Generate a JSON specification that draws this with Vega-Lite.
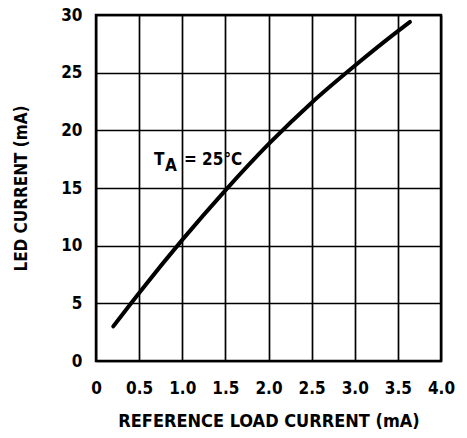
{
  "$schema": "https://vega.github.io/schema/vega-lite/v6.json",
  "width": 345,
  "height": 346,
  "autosize": "none",
  "padding": {"left": 96, "top": 15, "right": 26, "bottom": 77},
  "background": "white",
  "config": {
    "font": "DejaVu Sans Condensed",
    "view": {"stroke": "black", "strokeWidth": 2.5},
    "axis": {
      "domain": false,
      "ticks": false,
      "grid": true,
      "gridColor": "black",
      "gridWidth": 1.7,
      "gridOpacity": 1,
      "labelFont": "DejaVu Sans Condensed",
      "labelFontWeight": "bold",
      "labelFontSize": 17,
      "labelColor": "black",
      "titleFont": "DejaVu Sans Condensed",
      "titleFontWeight": "bold",
      "titleColor": "black"
    }
  },
  "layer": [
    {
      "data": {"values": [
        {"ref": 0.2, "led": 3.0},
        {"ref": 0.5, "led": 5.9},
        {"ref": 1.0, "led": 10.5},
        {"ref": 1.5, "led": 14.8},
        {"ref": 2.0, "led": 18.8},
        {"ref": 2.5, "led": 22.4},
        {"ref": 3.0, "led": 25.6},
        {"ref": 3.5, "led": 28.6},
        {"ref": 3.64, "led": 29.4}
      ]},
      "mark": {"type": "line", "color": "black", "strokeWidth": 4, "strokeCap": "round", "interpolate": "monotone"},
      "encoding": {
        "x": {"field": "ref", "type": "quantitative",
          "scale": {"domain": [0, 4], "nice": false},
          "axis": {"values": [0, 0.5, 1, 1.5, 2, 2.5, 3, 3.5, 4], "labelExpr": "datum.value == 0 ? '0' : format(datum.value, '.1f')", "labelPadding": 19, "titlePadding": 16, "titleFontSize": 18, "labelFlush": false},
          "title": "REFERENCE LOAD CURRENT (mA)"},
        "y": {"field": "led", "type": "quantitative",
          "scale": {"domain": [0, 30], "nice": false},
          "axis": {"values": [0, 5, 10, 15, 20, 25, 30], "labelPadding": 14, "titlePadding": 30, "titleFontSize": 17, "labelFlush": false},
          "title": "LED CURRENT (mA)"}
      }
    },
    {
      "data": {"values": [
        {"ref": 0.672, "led": 17.0, "label": "T"},
        {"ref": 1.02, "led": 17.0, "label": "= 25°C"}
      ]},
      "mark": {"type": "text", "align": "left", "baseline": "alphabetic", "fontWeight": "bold", "fontSize": 17, "color": "black", "font": "DejaVu Sans Condensed"},
      "encoding": {
        "x": {"field": "ref", "type": "quantitative"},
        "y": {"field": "led", "type": "quantitative"},
        "text": {"field": "label"}
      }
    },
    {
      "data": {"values": [
        {"ref": 0.8, "led": 16.45, "label": "A"}
      ]},
      "mark": {"type": "text", "align": "left", "baseline": "alphabetic", "fontWeight": "bold", "fontSize": 17, "color": "black", "font": "DejaVu Sans Condensed"},
      "encoding": {
        "x": {"field": "ref", "type": "quantitative"},
        "y": {"field": "led", "type": "quantitative"},
        "text": {"field": "label"}
      }
    }
  ]
}
